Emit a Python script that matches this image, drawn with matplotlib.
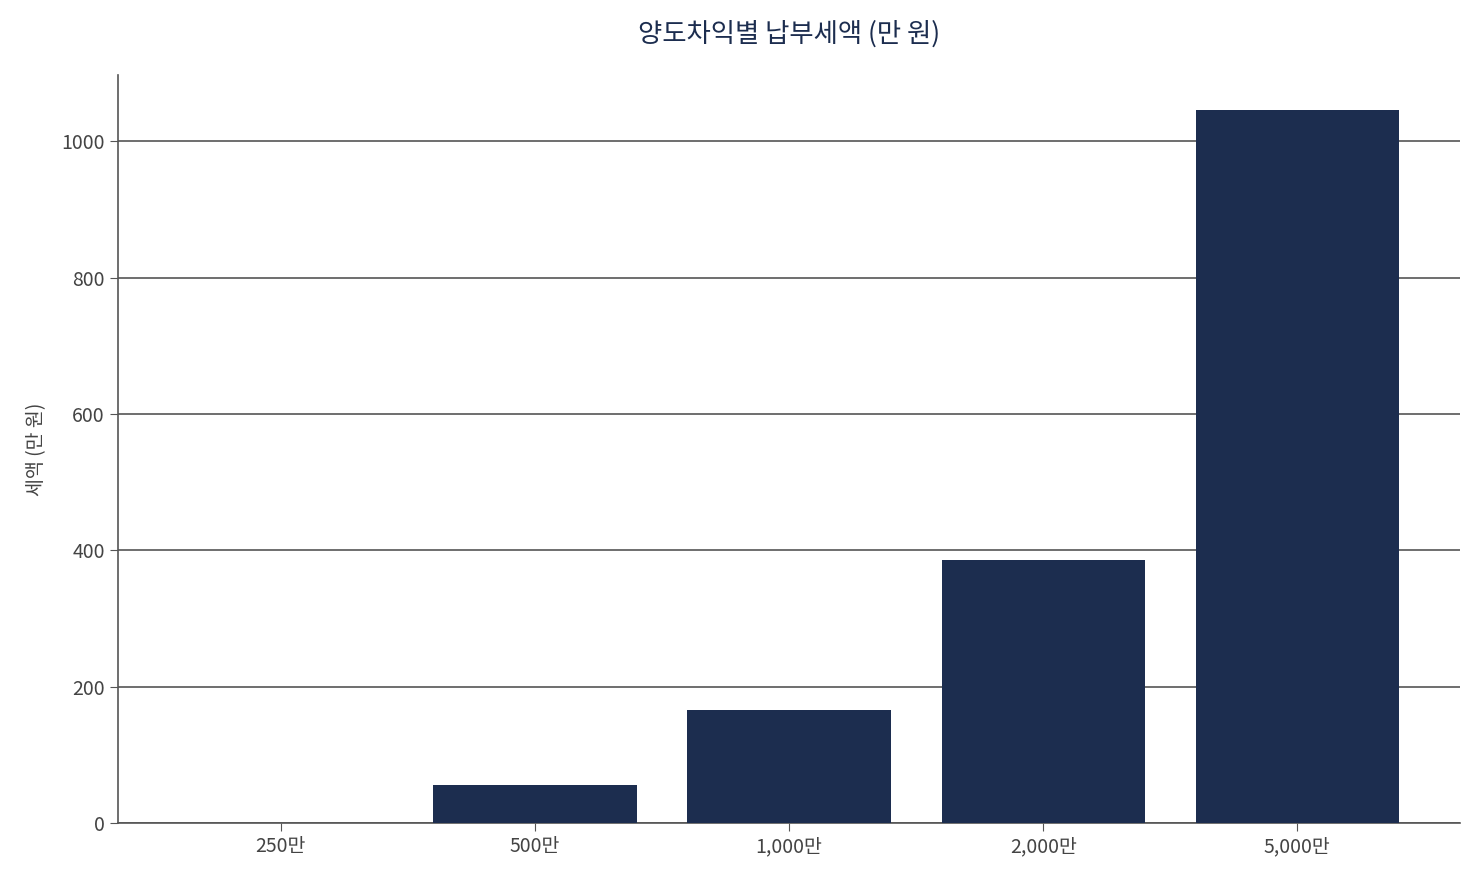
import matplotlib
matplotlib.use('Agg')
import matplotlib.pyplot as plt

plt.rcParams['font.family'] = ['Noto Sans CJK KR', 'DejaVu Sans']

## data
labels = ['250만', '500만', '1,000만', '2,000만', '5,000만']
tax = [0, 55, 165, 385, 1045]

navy = '#1c2d4f'
grey = '#555555'

fig = plt.figure(figsize=(14.76, 8.76), dpi=100)
ax = fig.add_axes([118/1476, 1-823/876, (1460-118)/1476, (823-75)/876])

ax.bar(range(len(labels)), tax, width=0.8, color=navy, zorder=3)
ax.set_xticks(range(len(labels)))
ax.set_xticklabels(labels)
ax.set_xlim(-0.64, 4.64)
ax.set_ylim(0, 1097)
ax.set_yticks([0, 200, 400, 600, 800, 1000])
ax.yaxis.grid(True, color=grey, linewidth=1.2, zorder=0)

for s in ['top', 'right']:
	ax.spines[s].set_visible(False)
for s in ['left', 'bottom']:
	ax.spines[s].set_color(grey)
	ax.spines[s].set_linewidth(1.2)
ax.tick_params(colors=grey, labelsize=14, length=6, labelcolor='#444444')

ax.set_ylabel('세액 (만 원)', fontsize=14, color='#444444', labelpad=10)
ax.set_title('양도차익별 납부세액 (만 원)', fontsize=19, color=navy, pad=24)

fig.savefig('out.png', dpi=100)
